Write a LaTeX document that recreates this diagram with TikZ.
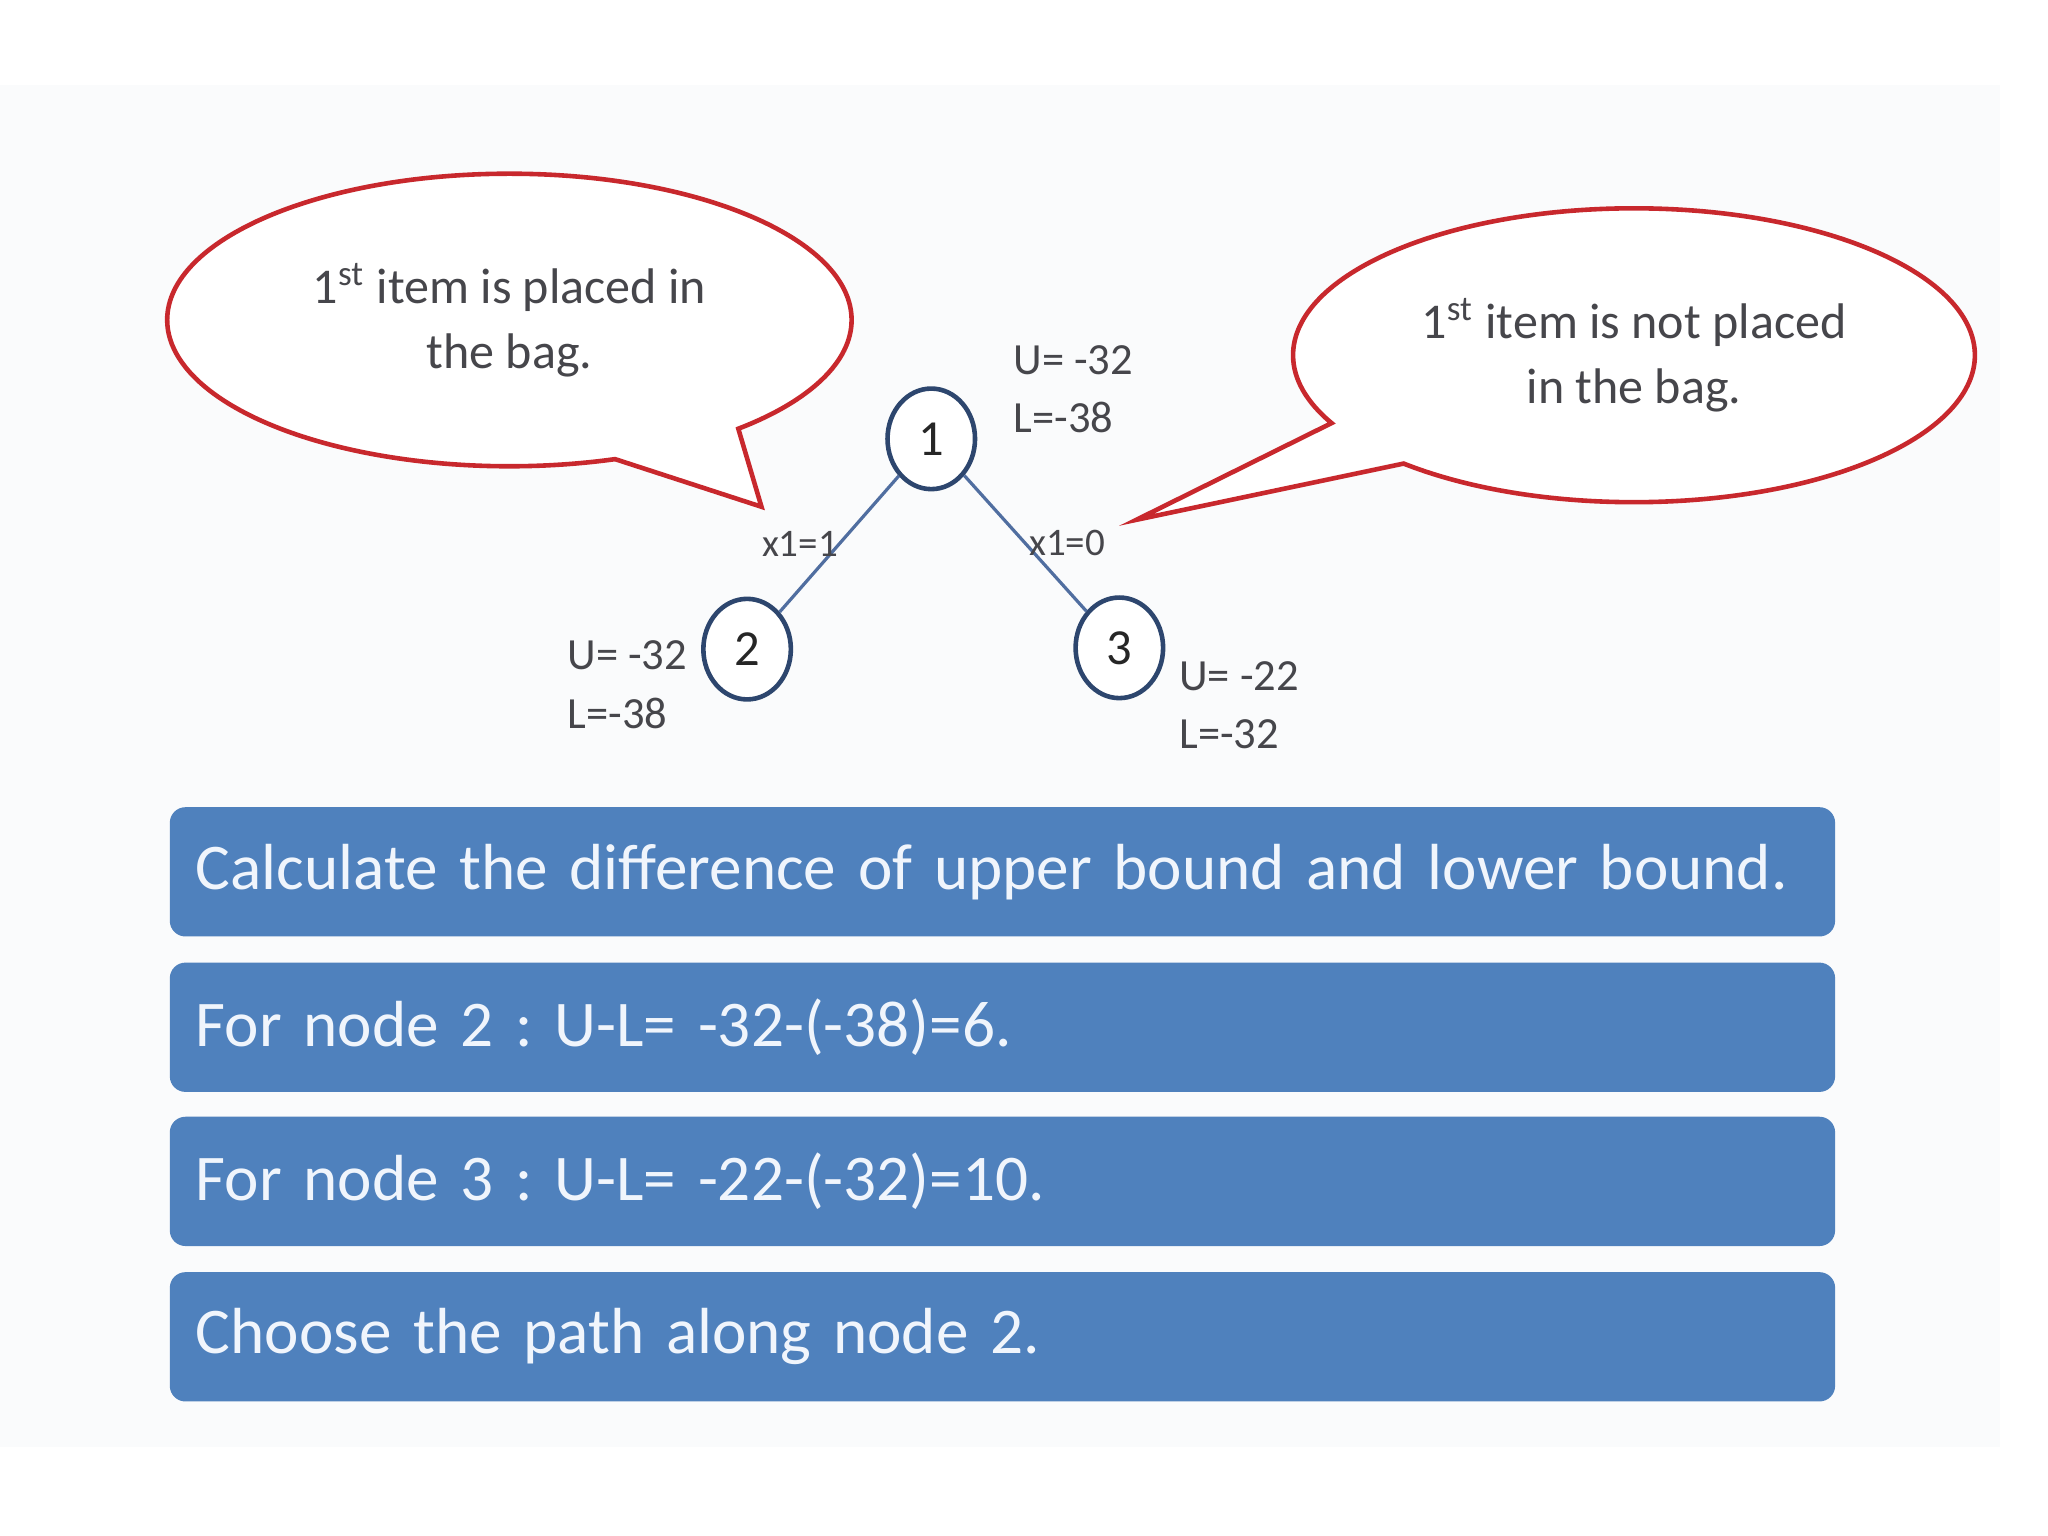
\documentclass[tikz,border=0pt]{standalone}
\usepackage{fontspec}
\setmainfont{Carlito}
\usepackage{tikz}
\usetikzlibrary{shapes.geometric,shapes.callouts}

\definecolor{boxblue}{RGB}{79,129,189}
\definecolor{boxtext}{RGB}{240,245,252}
\definecolor{bubred}{RGB}{200,40,45}
\definecolor{nodeline}{RGB}{45,70,110}
\definecolor{edgeline}{RGB}{80,110,160}
\definecolor{txtgray}{RGB}{70,70,75}
\definecolor{slidebg}{RGB}{250,251,252}

\frenchspacing
\begin{document}
\begin{tikzpicture}[
        bubble/.style={ellipse callout, draw=bubred, line width=1pt, fill=white, text=txtgray, align=center, font=\fontsize{10.9}{14.2}\selectfont, callout pointer arc=24},
        tnode/.style={ellipse, draw=nodeline, line width=1pt, fill=white, minimum width=0.67cm, minimum height=0.77cm, inner sep=0pt, font=\fontsize{11}{12}\selectfont, text=black!85},
        vals/.style={text=txtgray, align=left, inner sep=0pt, font=\fontsize{9.7}{12.8}\selectfont},
        elabel/.style={text=txtgray, inner sep=0pt, font=\fontsize{8.5}{9}\selectfont},
        stepbox/.style={rectangle, rounded corners=0.12cm, fill=boxblue, text=boxtext, minimum height=0.99cm, text width=12.35cm, inner xsep=0.2cm, align=left, font=\fontsize{14.2}{16}\selectfont}
    ]

    \useasboundingbox (0,0) rectangle (15.68,-11.76);
    \fill[slidebg] (0,-0.65) rectangle (15.31,-11.08);

    % the search tree
    \node[tnode, label={[vals, label distance=0.27cm, yshift=0.38cm]right:{U= -32\\L=-38}}] (n1) at (7.13,-3.36) {1};
    \node[tnode, label={[vals, label distance=0.10cm, yshift=-0.27cm]left:{U= -32\\L=-38}}] (n2) at (5.72,-4.97) {2};
    \node[tnode, label={[vals, label distance=0.10cm, yshift=-0.44cm]right:{U= -22\\L=-32}}] (n3) at (8.57,-4.96) {3};

    \draw[edgeline, line width=0.7pt] (n1) -- node[elabel, xshift=-0.3cm] {x1=1} (n2);
    \draw[edgeline, line width=0.7pt] (n1) -- node[elabel, xshift=0.32cm] {x1=0} (n3);

    % speech bubbles
    \coordinate (tipL) at (5.83,-3.88);
    \coordinate (tipR) at (8.70,-3.98);
    \node[bubble, minimum width=5.24cm, minimum height=2.24cm, callout absolute pointer=(tipL)] (bubL) at (3.90,-2.45) {1\textsuperscript{st} item is placed in\\the bag.};
    \node[bubble, minimum width=5.22cm, minimum height=2.25cm, callout absolute pointer=(tipR), callout pointer arc=20] (bubR) at (12.51,-2.72) {1\textsuperscript{st} item is not placed\\in the bag.};

    % explanation
    \node[stepbox] (s1) at (7.675,-6.675) {Calculate the difference of upper bound and lower bound.};
    \node[stepbox] (s2) at (7.675,-7.865) {For node 2 : U-L= -32-(-38)=6.};
    \node[stepbox] (s3) at (7.675,-9.045) {For node 3 : U-L= -22-(-32)=10.};
    \node[stepbox] (s4) at (7.675,-10.235) {Choose the path along node 2.};

\end{tikzpicture}
\end{document}
